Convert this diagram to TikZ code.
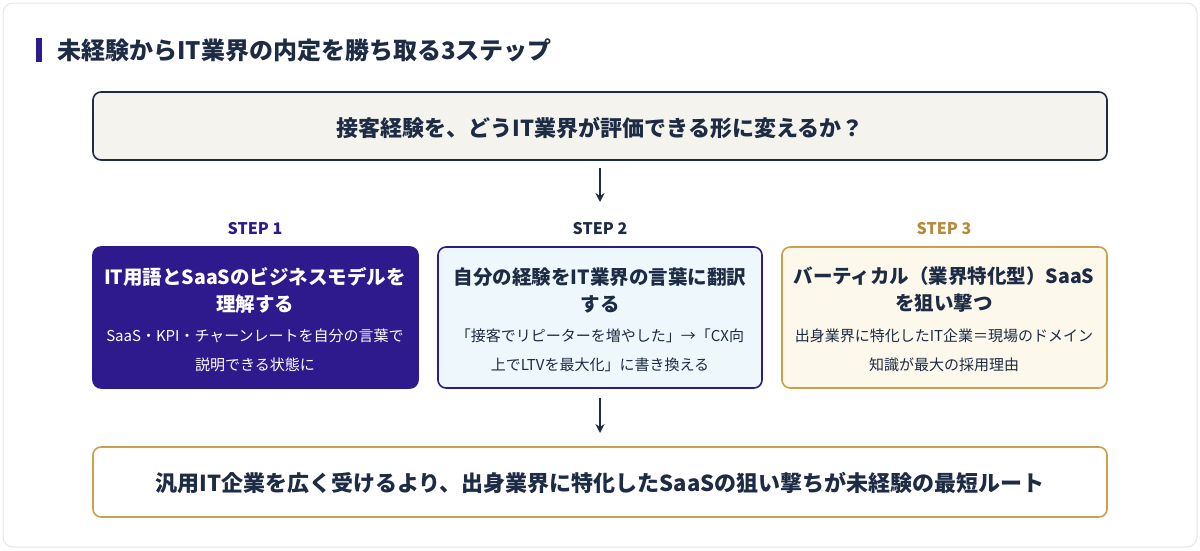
\documentclass[tikz,border=0pt]{standalone}
\usepackage{fontspec}
\setmainfont{Noto Sans CJK JP}
\usetikzlibrary{arrows.meta}
\definecolor{navy}{HTML}{1E2B45}
\definecolor{purp}{HTML}{2E1A8C}
\definecolor{gold}{HTML}{C9A04E}
\definecolor{goldt}{HTML}{B8893A}
\definecolor{cream}{HTML}{F5F3EE}
\definecolor{lblue}{HTML}{EEF7FC}
\definecolor{lcream}{HTML}{FDF8EC}
\begin{document}
\begin{tikzpicture}[x=1pt,y=-1pt,
 ttl/.style={font=\bfseries\fontsize{19.5}{27}\selectfont},
 big/.style={font=\bfseries\fontsize{22}{26}\selectfont},
 sub/.style={font=\fontsize{15}{29}\selectfont},
 stp/.style={font=\bfseries\fontsize{16}{18}\selectfont},
 arr/.style={-{Stealth[length=9pt,width=9pt]},line width=1.8pt,navy}]
\useasboundingbox (0,0) rectangle (1200,550);
\draw[rounded corners=10pt,draw=black!10,fill=white,line width=1pt] (3,3) rectangle (1197,547);
\fill[purp] (36,38) rectangle (42,62);
\node[anchor=west,font=\bfseries\fontsize{24}{26}\selectfont,text=navy] (title) at (54,50) {未経験からIT業界の内定を勝ち取る3ステップ};
\draw[rounded corners=8pt,line width=1.6pt,draw=navy,fill=cream] (93,92) rectangle (1107,160);
\node[big,text=navy] (q) at (600,128) {接客経験を、どうIT業界が評価できる形に変えるか？};
\coordinate (qb) at (600,168);
\coordinate (qe) at (600,202);
\draw[arr] (qb) -- (qe);
\node[stp,text=purp] (s1) at (255,229) {STEP 1};
\node[stp,text=navy] (s2) at (600,229) {STEP 2};
\node[stp,text=goldt] (s3) at (944,229) {STEP 3};
\filldraw[rounded corners=8pt,line width=1.6pt,draw=purp,fill=purp] (93,247) rectangle (418,388);
\filldraw[rounded corners=8pt,line width=1.6pt,draw=purp,fill=lblue] (438,247) rectangle (762,388);
\filldraw[rounded corners=8pt,line width=1.6pt,draw=gold,fill=lcream] (782,247) rectangle (1107,388);
\node[ttl,text=white,align=center] (b1) at (255,290) {IT用語とSaaSのビジネスモデルを\\理解する};
\node[sub,text=white,align=center] (c1) at (255,350) {SaaS・KPI・チャーンレートを自分の言葉で\\説明できる状態に};
\node[ttl,text=navy,align=center] (b2) at (600,290) {自分の経験をIT業界の言葉に翻訳\\する};
\node[sub,text=navy,align=center] (c2) at (600,350) {「接客でリピーターを増やした」→「CX向\\上でLTVを最大化」に書き換える};
\node[ttl,text=navy,align=center] (b3) at (944,290) {バーティカル（業界特化型）SaaS\\を狙い撃つ};
\node[sub,text=navy,align=center] (c3) at (944,350) {出身業界に特化したIT企業＝現場のドメイン\\知識が最大の採用理由};
\coordinate (ab) at (600,398);
\coordinate (ae) at (600,433);
\draw[arr] (ab) -- (ae);
\draw[rounded corners=8pt,line width=1.6pt,draw=gold,fill=white] (93,447) rectangle (1107,517);
\node[big,text=navy] (fin) at (600,483) {汎用IT企業を広く受けるより、出身業界に特化したSaaSの狙い撃ちが未経験の最短ルート};
\end{tikzpicture}
\end{document}
